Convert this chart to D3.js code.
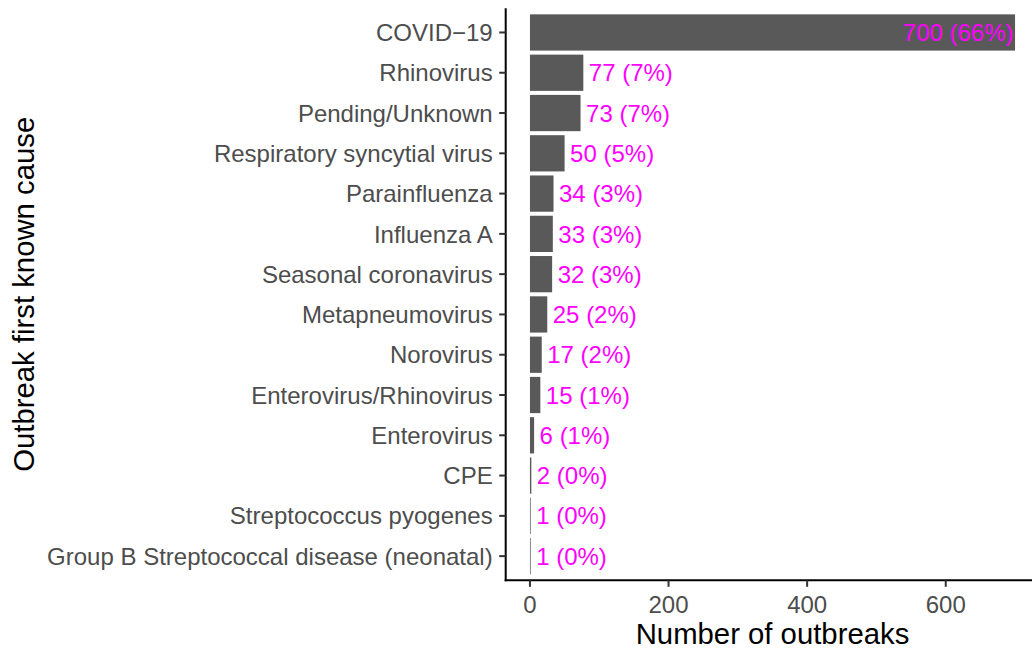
<!DOCTYPE html>
<html>
<head>
<meta charset="utf-8">
<script src="https://cdn.jsdelivr.net/npm/d3@7"></script>
<style>
html,body{margin:0;padding:0;background:#fff;}
svg{display:block;font-family:"Liberation Sans",Arial,sans-serif;}
</style>
</head>
<body>
<svg id="chart" width="1032" height="649"></svg>
<script>
const categories = ["COVID\u221219","Rhinovirus","Pending/Unknown","Respiratory syncytial virus","Parainfluenza","Influenza A","Seasonal coronavirus","Metapneumovirus","Norovirus","Enterovirus/Rhinovirus","Enterovirus","CPE","Streptococcus pyogenes","Group B Streptococcal disease (neonatal)"];
const counts = [700,77,73,50,34,33,32,25,17,15,6,2,1,1];
const percents = [66,7,7,5,3,3,3,2,2,1,1,0,0,0];
const xTicks = [0,200,400,600];
const xTitle = "Number of outbreaks";
const yTitle = "Outbreak first known cause";

const svg = d3.select("#chart");
const panel = {left:505.7, right:1039.3, top:8.3, bottom:580.3};

const x = d3.scaleLinear().domain([-35,735]).range([panel.left,panel.right]);
// ggplot discrete scale: band width 0.9 with 0.6 expansion on each side
const step = (panel.bottom-panel.top)/(categories.length-1+1.2);
const y = d3.scalePoint().domain(categories).range([panel.top+step*0.6, panel.bottom-step*0.6]);
const barH = step*0.9;

const data = categories.map((c,i)=>({cat:c,n:counts[i],p:percents[i]}));

// bars
svg.append("g").selectAll("rect").data(data).join("rect")
  .attr("x", x(0))
  .attr("y", d=>y(d.cat)-barH/2)
  .attr("width", d=>x(d.n)-x(0))
  .attr("height", barH)
  .attr("fill","#595959");

// labels
svg.append("g").selectAll("text").data(data).join("text")
  .attr("x", d=> d.n>600 ? x(d.n)-1.5 : x(d.n)+5.5)
  .attr("y", d=>y(d.cat))
  .attr("dy","0.36em")
  .attr("text-anchor", d=> d.n>600 ? "end":"start")
  .attr("font-size","24px")
  .attr("fill","#FF00FF")
  .text(d=>`${d.n} (${d.p}%)`);

// y axis
const yAxis = svg.append("g");
yAxis.append("line").attr("x1",panel.left).attr("x2",panel.left)
  .attr("y1",panel.top).attr("y2",panel.bottom+1).attr("stroke","#000").attr("stroke-width",2);
yAxis.selectAll("line.tick").data(categories).join("line").attr("class","tick")
  .attr("x1",panel.left-6.5).attr("x2",panel.left)
  .attr("y1",d=>y(d)).attr("y2",d=>y(d)).attr("stroke","#333").attr("stroke-width",2);
yAxis.selectAll("text").data(categories).join("text")
  .attr("x",panel.left-13).attr("y",d=>y(d)).attr("dy","0.36em")
  .attr("text-anchor","end").attr("font-size","24px").attr("fill","#4d4d4d")
  .text(d=>d);

// x axis
const xAxis = svg.append("g");
xAxis.append("line").attr("x1",panel.left-1).attr("x2",panel.right)
  .attr("y1",panel.bottom).attr("y2",panel.bottom).attr("stroke","#000").attr("stroke-width",2);
xAxis.selectAll("line.tick").data(xTicks).join("line").attr("class","tick")
  .attr("x1",d=>x(d)).attr("x2",d=>x(d))
  .attr("y1",panel.bottom).attr("y2",panel.bottom+6.5).attr("stroke","#333").attr("stroke-width",2);
xAxis.selectAll("text").data(xTicks).join("text")
  .attr("x",d=>x(d)).attr("y",612.5)
  .attr("text-anchor","middle").attr("font-size","24px").attr("fill","#4d4d4d")
  .text(d=>d);

// titles
svg.append("text").attr("x",(panel.left+panel.right)/2).attr("y",644)
  .attr("text-anchor","middle").attr("font-size","29.3px").attr("fill","#000").text(xTitle);
svg.append("text").attr("transform",`translate(34,${(panel.top+panel.bottom)/2}) rotate(-90)`)
  .attr("text-anchor","middle").attr("font-size","29.3px").attr("fill","#000").text(yTitle);
</script>
</body>
</html>
